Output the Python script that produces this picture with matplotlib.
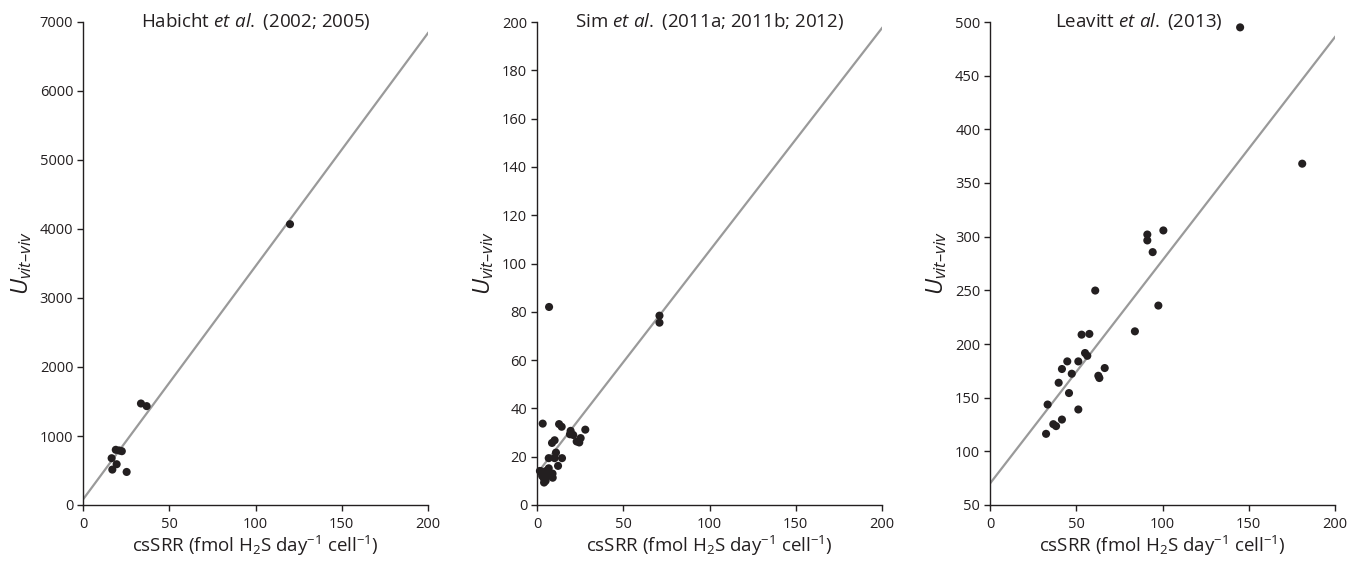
import matplotlib
matplotlib.use('Agg')
import matplotlib.pyplot as plt
import numpy as np

plt.rcParams['font.family'] = ['Open Sans', 'DejaVu Sans']
plt.rcParams['mathtext.fontset'] = 'custom'
plt.rcParams['mathtext.rm'] = 'Open Sans'
plt.rcParams['mathtext.it'] = 'Open Sans:italic'

ink = '#231f20'
line_col = '#9a9a9a'

# Habicht et al. (2002; 2005)
hab_x = [120, 33.6, 36.9, 19.0, 21.0, 22.5, 16.6, 19.5, 17.0, 25.3]
hab_y = [4070, 1471, 1433, 800, 790, 780, 678, 591, 513, 479]
hab_fit = [80, 6840]

# Sim et al. (2011a; 2011b; 2012)
sim_x = [7, 71, 71, 3.3, 12.8, 14.3, 19.5, 19.1, 21, 28, 25.3, 23, 24.5,
         10.2, 8.7, 11, 6.8, 10.2, 14.5, 12.2, 6.8, 1.7, 9.1, 4.1,
         2, 3, 4, 5, 3, 6, 9, 5]
sim_y = [82, 78.4, 75.5, 33.7, 33.5, 32.4, 30.7, 29.3, 29, 31.2, 27.7, 26.3, 25.9,
         26.8, 25.7, 21.7, 19.4, 19.4, 19.4, 16.2, 15.2, 14.1, 11.3, 9.3,
         14, 12, 11, 10, 13, 12, 13, 14]
sim_fit = [13, 197.5]

# Leavitt et al. (2013)
lea_x = [145, 181, 100.5, 91.2, 91.2, 94.3, 61, 97.6, 84, 53.1, 57.6, 55.1, 56.4,
         44.8, 51.2, 66.5, 41.7, 47.4, 62.8, 63.4, 39.8, 45.8, 33.4, 51.2,
         41.7, 36.7, 38.3, 32.5]
lea_y = [495, 368, 305.8, 302, 296.5, 285.6, 249.8, 235.8, 211.8, 208.7, 209.4, 191.6, 189,
         183.8, 183.8, 177.6, 176.7, 172.3, 170.4, 168.3, 163.9, 154.3, 143.6, 139,
         129.6, 125.3, 123.5, 116.3]
lea_fit = [70, 486]

panels = [
    (hab_x, hab_y, hab_fit, (0, 7000), 1000, 'Habicht $\\it{et\\ al.}$ (2002; 2005)', 0.5),
    (sim_x, sim_y, sim_fit, (0, 200), 20, 'Sim $\\it{et\\ al.}$ (2011a; 2011b; 2012)', 0.5),
    (lea_x, lea_y, lea_fit, (50, 500), 50, 'Leavitt $\\it{et\\ al.}$ (2013)', 0.43),
]

fig = plt.figure(figsize=(13.52, 5.61), dpi=100)
lefts = [83 / 1352, 537 / 1352, 990 / 1352]
w = 345 / 1352
b = 1 - 505 / 561
h = (505 - 22) / 561

for left, (xs, ys, fit, ylim, ystep, title, tx) in zip(lefts, panels):
    ax = fig.add_axes([left, b, w, h])
    ax.plot([0, 200], fit, color=line_col, lw=1.6, zorder=1)
    ax.scatter(xs, ys, s=34, color=ink, edgecolors='none', zorder=2, clip_on=False)
    ax.set_xlim(0, 200)
    ax.set_ylim(*ylim)
    ax.set_xticks([0, 50, 100, 150, 200])
    ax.set_yticks(np.arange(ylim[0], ylim[1] + 1, ystep))
    for s in ['top', 'right']:
        ax.spines[s].set_visible(False)
    for s in ['left', 'bottom']:
        ax.spines[s].set_color(ink)
        ax.spines[s].set_linewidth(1.0)
    ax.tick_params(direction='out', length=4, width=1, color=ink,
                   labelsize=10.5, labelcolor=ink)
    ax.tick_params(axis='x', pad=5)
    ax.tick_params(axis='y', pad=3)
    ax.text(tx, 1.0, title, transform=ax.transAxes, ha='center', va='center',
            fontsize=13.5, color=ink)
    ax.set_xlabel('csSRR (fmol H$_2$S day$^{\u2212 1}$ cell$^{\u2212 1}$)',
                  fontsize=13.5, color=ink, labelpad=1)
    ax.set_ylabel('$U_{vit\u2013viv}$', fontsize=17, color=ink, labelpad=4)

fig.savefig('out.png', dpi=100)
